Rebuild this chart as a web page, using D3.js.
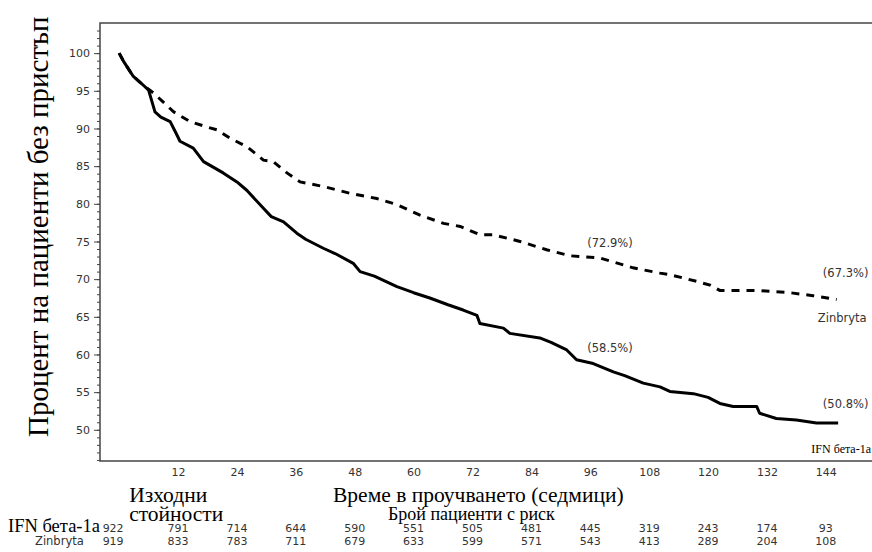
<!DOCTYPE html>
<html>
<head>
<meta charset="utf-8">
<script src="https://cdn.jsdelivr.net/npm/d3@7"></script>
<style>
  body { margin: 0; background: #fff; }
  .tick text { font-family: "DejaVu Sans", sans-serif; font-size: 11px; fill: #333; }
  .serif { font-family: "Liberation Serif", "Times New Roman", serif; fill: #000; }
  .sans { font-family: "DejaVu Sans", sans-serif; font-size: 11px; fill: #333; }
</style>
</head>
<body>
<div id="container"></div>
<script>
/* CONSTANTS AND GLOBALS */
const width = 872;
const height = 552;

const margin = { left: 100, top: 23, right: 0, bottom: 91 };

/* DATA */
// Kaplan-Meier curves: [week, % without relapse]
const ifnCurve = [
  [0, 100], [1, 98.8], [2.9, 96.9], [4.5, 96.0], [6, 95.1], [7.3, 92.2], [8.5, 91.5],
  [10.4, 90.9], [11.5, 89.5], [12.4, 88.3], [15.1, 87.4], [17.2, 85.6], [21.2, 84.1],
  [24, 82.9], [26, 81.8], [29.4, 79.4], [31, 78.3], [33.5, 77.6], [36.2, 76.1],
  [38, 75.3], [41.6, 74.1], [44, 73.4], [47.7, 72.1], [49.1, 71.0], [52, 70.4],
  [56.6, 69.0], [60, 68.2], [63.3, 67.5], [67, 66.6], [70.1, 65.9], [72.9, 65.2],
  [73.5, 64.1], [78.3, 63.5], [79.6, 62.8], [85.7, 62.2], [88, 61.6], [91.2, 60.6],
  [93.2, 59.3], [96.6, 58.8], [100.7, 57.7], [103, 57.2], [106.8, 56.2], [110.2, 55.7],
  [112.2, 55.1], [117, 54.8], [120, 54.3], [122.4, 53.5], [125.1, 53.1], [129.9, 53.1],
  [130.5, 52.2], [133.9, 51.5], [138, 51.3], [142.1, 50.9], [146.5, 50.9]
];

const zinCurve = [
  [0, 100], [1, 98.8], [2.9, 96.9], [4.5, 96.0], [6, 95.2], [7, 94.7], [9, 93.5],
  [11.1, 92.2], [14.5, 90.9], [17.9, 90.2], [20, 89.8], [22.6, 88.7], [26, 87.6],
  [29.4, 85.8], [31.4, 85.6], [34.2, 84.1], [36.9, 82.9], [41.6, 82.3], [47, 81.4],
  [52.5, 80.7], [56.6, 79.9], [61.3, 78.5], [66.1, 77.4], [69.5, 77.0], [73.5, 75.9],
  [76.2, 75.9], [81.7, 75.0], [87.1, 73.9], [91.9, 73.1], [98, 72.8], [104.7, 71.5],
  [110.2, 70.8], [112.2, 70.6], [117.7, 69.7], [120.4, 69.2], [122.4, 68.5],
  [129.9, 68.5], [136.7, 68.2], [141.4, 67.8], [146.2, 67.3]
];

const xTicks = [12, 24, 36, 48, 60, 72, 84, 96, 108, 120, 132, 144];
const yTicks = [50, 55, 60, 65, 70, 75, 80, 85, 90, 95, 100];

const riskWeeks = [0, 12, 24, 36, 48, 60, 72, 84, 96, 108, 120, 132, 144];
const riskIfn = [922, 791, 714, 644, 590, 551, 505, 481, 445, 319, 243, 174, 93];
const riskZin = [919, 833, 783, 711, 679, 633, 599, 571, 543, 413, 289, 204, 108];

// percentage labels: [week, value, text]
const ifnLabels = [[96, 58.5, "(58.5%)"], [144, 50.8, "(50.8%)"]];
const zinLabels = [[96, 72.9, "(72.9%)"], [144, 67.3, "(67.3%)"]];

/* SCALES */
const xScale = d3.scaleLinear()
  .domain([-3.9, 153.4])
  .range([margin.left, width - margin.right]);

const yScale = d3.scaleLinear()
  .domain([45.86, 104])
  .range([height - margin.bottom, margin.top]);

/* CREATE SVG ELEMENT */
const svg = d3.select("#container")
  .append("svg")
  .attr("width", width)
  .attr("height", height)
  .style("background-color", "#fff");

/* AXES */
// minor ticks every 1 %
const yMinor = d3.axisLeft(yScale)
  .tickValues(d3.range(46, 104))
  .tickSize(3)
  .tickFormat("");

svg.append("g")
  .attr("class", "yMinor")
  .attr("transform", `translate(${margin.left}, 0)`)
  .call(yMinor)
  .call(g => g.select(".domain").remove())
  .call(g => g.selectAll("line").attr("stroke", "#444"));

const yAxis = d3.axisLeft(yScale)
  .tickValues(yTicks)
  .tickSize(6)
  .tickPadding(4);

svg.append("g")
  .attr("class", "yAxis")
  .attr("transform", `translate(${margin.left}, 0)`)
  .call(yAxis)
  .call(g => g.select(".domain").remove())
  .call(g => g.selectAll("line").attr("stroke", "#444"));

const xAxis = d3.axisBottom(xScale)
  .tickValues(xTicks)
  .tickSize(0)
  .tickPadding(7);

svg.append("g")
  .attr("class", "xAxis")
  .attr("transform", `translate(0, ${height - margin.bottom})`)
  .call(xAxis)
  .call(g => g.select(".domain").remove());

// frame: top, left, bottom (open on the right)
svg.append("path")
  .attr("fill", "none")
  .attr("stroke", "#444")
  .attr("stroke-width", 1.5)
  .attr("d", `M${width},${margin.top}H${margin.left}V${height - margin.bottom}H${width}`);

/* LINES */
const lineGen = d3.line()
  .x(d => xScale(d[0]))
  .y(d => yScale(d[1]));

svg.append("path")
  .datum(zinCurve)
  .attr("fill", "none")
  .attr("stroke", "#000")
  .attr("stroke-width", 3)
  .attr("stroke-dasharray", "8,7")
  .attr("d", lineGen);

svg.append("path")
  .datum(ifnCurve)
  .attr("fill", "none")
  .attr("stroke", "#000")
  .attr("stroke-width", 3)
  .attr("stroke-linejoin", "round")
  .attr("d", lineGen);

/* CURVE LABELS */
const labelOffsets = { "(72.9%)": -10, "(58.5%)": -14, "(67.3%)": -22, "(50.8%)": -16 };
svg.selectAll(".pctLabel")
  .data(zinLabels.concat(ifnLabels))
  .join("text")
  .attr("class", "pctLabel sans")
  .attr("x", d => xScale(d[0]) - 3)
  .attr("y", d => yScale(d[1]) + labelOffsets[d[2]])
  .style("font-size", "11.5px")
  .text(d => d[2]);

svg.append("text")
  .attr("class", "sans")
  .attr("x", xScale(144) - 8)
  .attr("y", yScale(67.3) + 23)
  .style("font-size", "11.5px")
  .text("Zinbryta");

svg.append("text")
  .attr("class", "serif")
  .attr("text-anchor", "end")
  .attr("x", width - 1)
  .attr("y", yScale(50.8) + 29)
  .style("font-size", "12px")
  .text("IFN бета-1а");

/* AXIS TITLES */
svg.append("text")
  .attr("class", "serif")
  .attr("transform", `translate(${48}, ${437}) rotate(-90)`)
  .style("font-size", "29px")
  .text("Процент на пациенти без пристъп");

svg.append("text")
  .attr("class", "serif")
  .attr("x", 333)
  .attr("y", 502)
  .style("font-size", "21.5px")
  .text("Време в проучването (седмици)");

svg.append("text")
  .attr("class", "serif")
  .attr("x", xScale(0) + 10)
  .attr("y", 502)
  .style("font-size", "21.5px")
  .text("Изходни");

svg.append("text")
  .attr("class", "serif")
  .attr("x", xScale(0) + 10)
  .attr("y", 521)
  .style("font-size", "21.5px")
  .text("стойности");

svg.append("text")
  .attr("class", "serif")
  .attr("x", 388)
  .attr("y", 520)
  .style("font-size", "18px")
  .text("Брой пациенти с риск");

/* RISK TABLE */
svg.append("text")
  .attr("class", "serif")
  .attr("x", 8)
  .attr("y", 532)
  .style("font-size", "18.5px")
  .text("IFN бета-1а");

svg.append("text")
  .attr("class", "sans")
  .attr("x", 35)
  .attr("y", 545)
  .style("font-size", "11.5px")
  .text("Zinbryta");

svg.selectAll(".riskIfn")
  .data(riskWeeks)
  .join("text")
  .attr("class", "riskIfn sans")
  .attr("text-anchor", "middle")
  .attr("x", d => d === 0 ? xScale(d) - 6 : xScale(d))
  .attr("y", 532)
  .text((d, i) => riskIfn[i]);

svg.selectAll(".riskZin")
  .data(riskWeeks)
  .join("text")
  .attr("class", "riskZin sans")
  .attr("text-anchor", "middle")
  .attr("x", d => d === 0 ? xScale(d) - 6 : xScale(d))
  .attr("y", 545)
  .text((d, i) => riskZin[i]);
</script>
</body>
</html>
